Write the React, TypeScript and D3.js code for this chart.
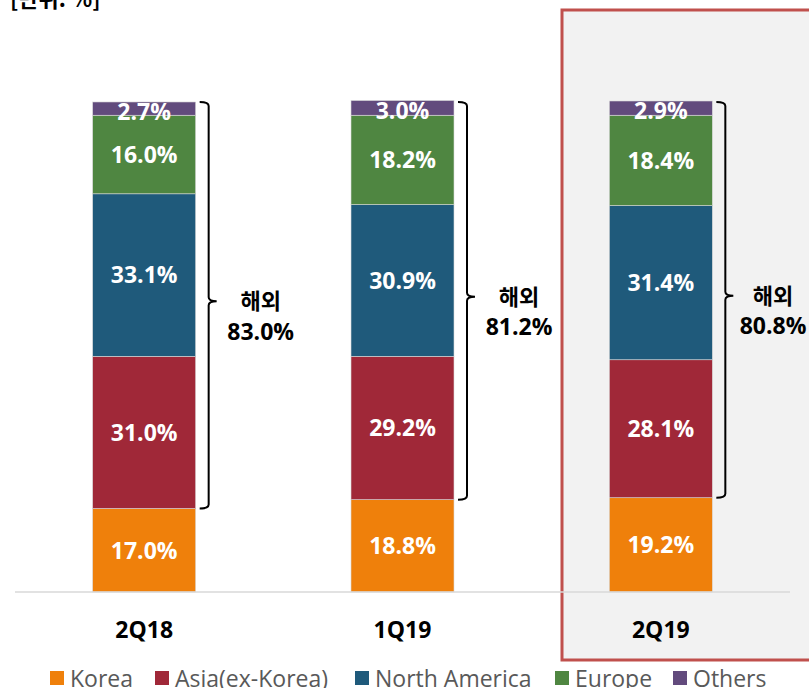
import React, { useEffect, useRef } from 'react';
import * as d3 from 'd3';

const periods = ['2Q18', '1Q19', '2Q19'];
const regions = ['Korea', 'Asia(ex-Korea)', 'North America', 'Europe', 'Others'];
const korea = [17.0, 18.8, 19.2];
const asia = [31.0, 29.2, 28.1];
const northAmerica = [33.1, 30.9, 31.4];
const europe = [16.0, 18.2, 18.4];
const others = [2.7, 3.0, 2.9];
const overseas = ['83.0%', '81.2%', '80.8%'];
const colors = ['#ef800b', '#a02838', '#1f5a7b', '#4f8641', '#624b7d'];

export default function App() {
  const svgRef = useRef<SVGSVGElement>(null);

  useEffect(() => {
    const svg = d3.select(svgRef.current);
    svg.selectAll('*').remove();

    const width = 809, height = 688;
    const x = d3.scalePoint().domain(periods).range([15, 790]).padding(0.5);
    const y = d3.scaleLinear().domain([0, 100]).range([592, 101]);
    const barW = 103;
    const numFont = "'Open Sans', 'Noto Sans', sans-serif";
    const krFont = "'Noto Sans CJK KR', sans-serif";

    // highlight box for latest quarter
    svg.append('rect')
      .attr('x', 562).attr('y', 10).attr('width', 260).attr('height', 650)
      .attr('fill', '#f2f2f2').attr('stroke', '#c0504d').attr('stroke-width', 3);

    // unit label (clipped at the top)
    svg.append('text')
      .attr('x', 10).attr('y', 7)
      .attr('font-family', krFont).attr('font-weight', 700).attr('font-size', 22)
      .text('[단위: %]');

    const series = [korea, asia, northAmerica, europe, others];
    const data = periods.map((p, i) => {
      const row: any = { period: p };
      regions.forEach((r, j) => { row[r] = series[j][i]; });
      return row;
    });
    const stacked = d3.stack().keys(regions)(data);

    stacked.forEach((layer, j) => {
      const g = svg.append('g');
      g.selectAll('rect').data(layer).enter().append('rect')
        .attr('x', (d: any) => (x(d.data.period) as number) - barW / 2)
        .attr('y', (d: any) => y(d[1]))
        .attr('width', barW)
        .attr('height', (d: any) => y(d[0]) - y(d[1]))
        .attr('fill', colors[j])
        .attr('stroke', '#d9d9d9').attr('stroke-width', 0.6);
      g.selectAll('text').data(layer).enter().append('text')
        .attr('x', (d: any) => x(d.data.period) as number)
        .attr('y', (d: any) => j === 4 ? y(d[1]) + 10 : (y(d[0]) + y(d[1])) / 2)
        .attr('dy', '0.36em')
        .attr('text-anchor', 'middle')
        .attr('fill', '#fff')
        .attr('font-family', numFont).attr('font-weight', 700).attr('font-size', 23)
        .text((d: any) => (d[1] - d[0]).toFixed(1) + '%');
    });

    // axis line
    svg.append('line')
      .attr('x1', 15).attr('x2', 790).attr('y1', y(0)).attr('y2', y(0))
      .attr('stroke', '#d9d9d9').attr('stroke-width', 1.5);

    // category labels
    svg.selectAll('.cat').data(periods).enter().append('text')
      .attr('x', d => x(d) as number).attr('y', 630)
      .attr('dy', '0.36em').attr('text-anchor', 'middle')
      .attr('font-family', numFont).attr('font-weight', 700).attr('font-size', 23)
      .attr('fill', '#000')
      .text(d => d);

    // overseas brackets
    periods.forEach((p, i) => {
      const x0 = (x(p) as number) + barW / 2 + 4;
      const x1 = x0 + 9;
      const top = y(100) + 1;
      const bot = y(korea[i]);
      const mid = (top + bot) / 2 - 4;
      const r = 4;
      const path = `M${x0},${top} Q${x1},${top} ${x1},${top + r} L${x1},${mid - r} Q${x1},${mid} ${x1 + 8},${mid} Q${x1},${mid} ${x1},${mid + r} L${x1},${bot - r} Q${x1},${bot} ${x0},${bot}`;
      svg.append('path').attr('d', path).attr('fill', 'none').attr('stroke', '#000').attr('stroke-width', 2);
      const tx = Math.min(x1 + 52, 773);
      svg.append('text').attr('x', tx).attr('y', mid).attr('dy', '0.36em')
        .attr('text-anchor', 'middle')
        .attr('font-family', krFont).attr('font-weight', 700).attr('font-size', 22)
        .text('해외');
      svg.append('text').attr('x', tx).attr('y', mid + 30).attr('dy', '0.36em')
        .attr('text-anchor', 'middle')
        .attr('font-family', numFont).attr('font-weight', 700).attr('font-size', 23)
        .text(overseas[i]);
    });

    // legend
    const legendX = [50, 155, 355, 555, 673];
    regions.forEach((r, j) => {
      svg.append('rect').attr('x', legendX[j]).attr('y', 671).attr('width', 14).attr('height', 14)
        .attr('fill', colors[j]);
      svg.append('text').attr('x', legendX[j] + 20).attr('y', 679).attr('dy', '0.36em')
        .attr('font-family', numFont).attr('font-size', 23).attr('fill', '#595959')
        .text(r);
    });

    svg.attr('width', width).attr('height', height);
  }, []);

  return (
    <div style={{ position: 'absolute', left: 0, top: 0 }}>
      <svg ref={svgRef} width={809} height={688} style={{ display: 'block' }} />
    </div>
  );
}
